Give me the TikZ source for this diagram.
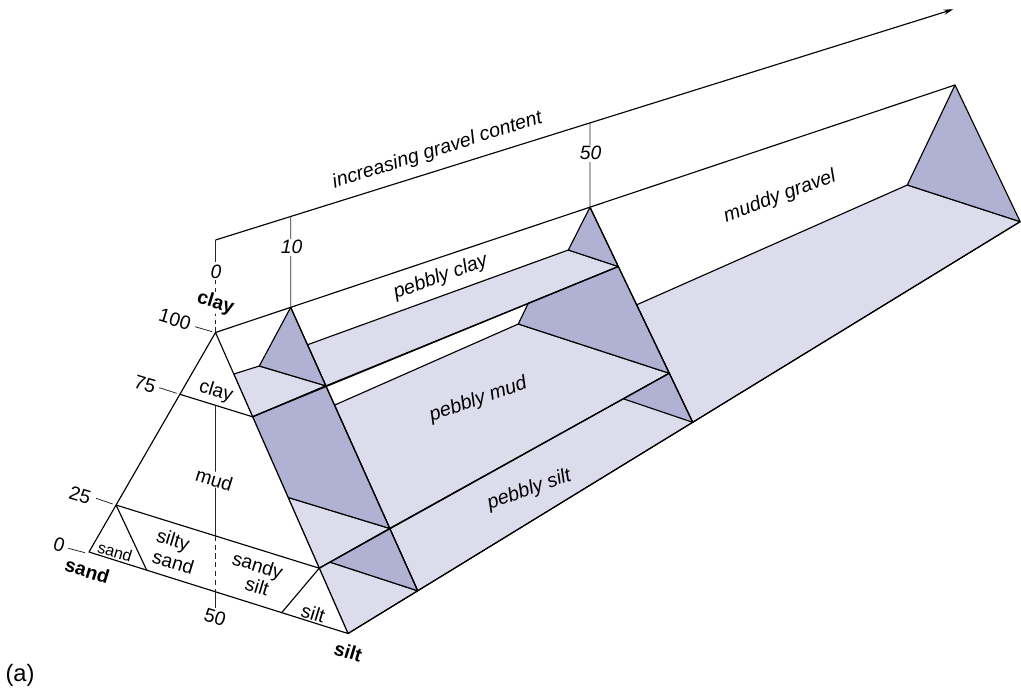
\documentclass[tikz,border=0pt]{standalone}
\usepackage{fontspec}
\setmainfont{Liberation Sans}
\usetikzlibrary{calc,arrows.meta}
\definecolor{lightc}{RGB}{220,220,236}
\definecolor{darkc}{RGB}{177,177,212}
\begin{document}
\begin{tikzpicture}[x=0.02cm,y=-0.02cm,
  face/.style={draw=black, line width=0.65pt, line join=round},
  lt/.style={face, fill=lightc},
  dk/.style={face, fill=darkc},
  edge/.style={draw=black, line width=0.65pt},
  tick/.style={draw=black!85, line width=0.45pt},
  wd/.style={font=\fontsize{11}{12}\selectfont, inner sep=0.3pt, rotate=-17},
  sm/.style={font=\fontsize{9.2}{10}\selectfont, inner sep=0.3pt, rotate=-17},
  bd/.style={font=\fontsize{11}{12}\selectfont\bfseries, inner sep=0.5pt, rotate=-17},
  num/.style={font=\fontsize{11}{12}\selectfont, inner sep=0.5pt, rotate=-17},
  axn/.style={font=\fontsize{11}{12}\selectfont\itshape, inner sep=1pt, fill=white},
  itl/.style={font=\fontsize{11.2}{13}\selectfont\itshape, inner sep=0pt}]
\useasboundingbox (0,0) rectangle (1021,690);

% main vertices
\coordinate (S0) at (89,552);
\coordinate (C0) at (215.5,332.5);
\coordinate (T0) at (348,633.5);
\coordinate (Cf) at (955,85);
\coordinate (T50) at (692.7,422.3);
\coordinate (C10) at ($(C0)!0.1017!(Cf)$);
\coordinate (C50) at ($(C0)!0.5064!(Cf)$);
\coordinate (T10) at ($(T0)!0.2022!(T50)$);
\coordinate (Tf) at ($(T0)!1.95!(T50)$);
\coordinate (FI) at (907.3,185);

% front triangle points
\coordinate (L75) at ($(C0)!0.2815!(S0)$);
\coordinate (R75) at ($(C0)!0.28!(T0)$);
\coordinate (L25) at ($(C0)!0.786!(S0)$);
\coordinate (R25) at ($(C0)!0.783!(T0)$);
\coordinate (E1) at ($(C0)!0.138!(T0)$);
\coordinate (M1) at ($(C0)!0.548!(T0)$);
\coordinate (B1) at ($(S0)!0.2228!(T0)$);
\coordinate (B2) at ($(S0)!0.744!(T0)$);

% 10 section
\coordinate (L75a) at (259.3,366);
\coordinate (R75a) at ($(C10)!0.277!(T10)$);
\coordinate (R25a) at ($(C10)!0.78!(T10)$);
\coordinate (Q1) at ($(C10)!0.132!(T10)$);
\coordinate (Q2) at ($(C10)!0.345!(T10)$);

% 50 section
\coordinate (L75b) at (568.3,250);
\coordinate (R75b) at ($(C50)!0.276!(T50)$);
\coordinate (R25b) at ($(C50)!0.772!(T50)$);
\coordinate (MG0) at ($(C50)!0.454!(T50)$);
\coordinate (D1) at ($(R75a)!0.692!(R75b)$);
\coordinate (D2) at (518.3,324);
\coordinate (P1) at ($(R25)!0.152!(R25a)$);
\coordinate (P2) at ($(R25a)!0.8355!(R25b)$);

% axis
\coordinate (A0) at (215.5,240);
\coordinate (Aend) at (953.3,9.3);
\coordinate (A10) at ($(A0)!0.1019!(Aend)$);
\coordinate (A50) at ($(A0)!0.5076!(Aend)$);

% light faces
\path[lt] (E1) -- (L75a) -- (R75a) -- (R75) -- cycle;
\path[lt] (Q1) -- (L75b) -- (R75b) -- (R75a) -- cycle;
\path[lt] (Q2) -- (D2) -- (R25b) -- (R25a) -- cycle;
\path[lt] (M1) -- (R25a) -- (R25) -- cycle;
\path[lt] (R25) -- (P1) -- (T10) -- (T0) -- cycle;
\path[lt] (R25a) -- (R25b) -- (T50) -- (T10) -- cycle;
\path[lt] (MG0) -- (FI) -- (Tf) -- (T50) -- cycle;

% dark faces
\path[dk] (C10) -- (L75a) -- (R75a) -- cycle;
\path[dk] (R75) -- (R75a) -- (R25a) -- (M1) -- cycle;
\path[dk] (P1) -- (R25a) -- (T10) -- cycle;
\path[dk] (C50) -- (L75b) -- (R75b) -- cycle;
\path[dk] (D1) -- (R75b) -- (R25b) -- (D2) -- cycle;
\path[dk] (P2) -- (R25b) -- (T50) -- cycle;
\path[dk] (Cf) -- (Tf) -- (FI) -- cycle;

% long edges
\draw[edge] (C0) -- (Cf);
\draw[edge] (T0) -- (Tf);
\draw[edge] (C10) -- (T10);
\draw[edge] (C50) -- (T50);
\draw[edge] (R75) -- (R75b);
\draw[edge] (R25) -- (R25b);

% front triangle
\path[face, fill=white] (S0) -- (C0) -- (T0) -- cycle;
\draw[edge] (L75) -- (R75);
\draw[edge] (L25) -- (R25);
\draw[edge] (L25) -- (B1);
\draw[edge] (R25) -- (B2);
\coordinate (V1) at (215.8,405.2);
\coordinate (V2) at (215.8,535.8);
\coordinate (V3) at (215.8,592);
\coordinate (V4) at (215.8,608);
\draw[tick] (V1) -- (V2);
\draw[tick, dash pattern=on 3pt off 2pt] (V2) -- (V3);
\draw[tick] (V3) -- (V4);

% axis
\draw[edge, -{Stealth[length=5.5pt,width=3pt]}] (A0) -- (Aend);
\coordinate (Z1) at (215.5,262);
\coordinate (Z2) at (215.5,280);
\draw[tick] (A0) -- (Z1);
\draw[tick, dash pattern=on 2.5pt off 2pt] (Z2) -- (C0);
\draw[tick] (A10) -- (C10);
\draw[tick] (A50) -- (C50);

% left ticks
\coordinate (k1a) at (195,326.7); \coordinate (k1b) at (212.3,331.7);
\coordinate (k2a) at (159.3,387.7); \coordinate (k2b) at (176.7,393.3);
\coordinate (k3a) at (96,498.3); \coordinate (k3b) at (112.7,504);
\coordinate (k4a) at (68.3,548.3); \coordinate (k4b) at (85,552.7);
\draw[tick] (k1a) -- (k1b);
\draw[tick] (k2a) -- (k2b);
\draw[tick] (k3a) -- (k3b);
\draw[tick] (k4a) -- (k4b);

% labels
\node[axn] (ax0) at (216,271.7) {0};
\node[axn] (ax10) at (291.7,247.3) {10};
\node[axn] (ax50) at (590.7,153.3) {50};
\node[bd, fill=white] (lclaytop) at (215.5,303.3) {clay};
\node[num] (n100) at (175,319.3) {100};
\node[num] (n75) at (145,384) {75};
\node[num] (n25) at (80,495) {25};
\node[num] (n0) at (59.3,545) {0};
\node[num] (n50) at (215,617.5) {50};
\node[bd] (lsand) at (87.3,570.7) {sand};
\node[bd] (lsilt) at (348.3,651.7) {silt};
\node[wd] (lclay) at (216,391.7) {clay};
\node[wd, fill=white] (lmud) at (214.3,479.3) {mud};
\node[sm] (lsandin) at (115,551.7) {sand};
\node[wd] (lsilty1) at (172.7,541.2) {silty};
\node[wd] (lsilty2) at (173.3,562.2) {sand};
\node[wd] (lsandy1) at (257.2,566.8) {sandy};
\node[wd] (lsandy2) at (257.3,586.2) {silt};
\node[wd] (lsiltin) at (313.3,613.3) {silt};
\node[font=\fontsize{13.5}{15}\selectfont, inner sep=0pt] (la) at (20,675) {(a)};
\node[itl, rotate=17.5] (lgrav) at (437.5,150.5) {increasing gravel content};
\node[itl, rotate=20] (lpc) at (440.7,277.3) {pebbly clay};
\node[itl, rotate=19] (lpm) at (478.3,400) {pebbly mud};
\node[itl, rotate=19.5] (lps) at (529.3,490) {pebbly silt};
\node[itl, rotate=20.5] (lmg) at (780,196.7) {muddy gravel};
\end{tikzpicture}
\end{document}
